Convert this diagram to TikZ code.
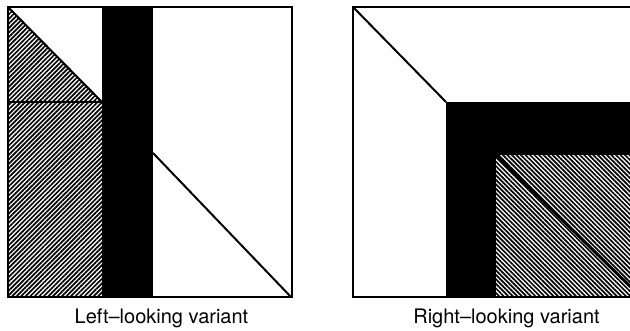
\documentclass[tikz,border=0pt]{standalone}
\usepackage{fontspec}
\setmainfont{TeX Gyre Heros}
\usetikzlibrary{patterns.meta}

\tikzset{
  frame/.style={draw=black, line width=2pt},
  edge/.style={draw=black, line width=2pt, line cap=round},
  hatchL/.style={pattern={Lines[angle=45, distance=3.2pt, line width=1.7pt]}},
  hatchR/.style={pattern={Lines[angle=-45, distance=3.2pt, line width=1.7pt]}},
  caption/.style={anchor=base, font=\fontsize{20}{24}\selectfont}
}

\begin{document}
\begin{tikzpicture}[x=1pt, y=-1pt]
\useasboundingbox (0,0) rectangle (630,331);
\clip (0,0) rectangle (630,331);

%% left-looking: hatched part done, black column is the current one
\begin{scope}
% hatched triangle above the row line and hatched block below it
\fill[hatchL] (8,7) -- (102,102) -- (8,102) -- cycle;
\fill[hatchL] (8,102) rectangle (102,297);
% current column
\fill[black] (102,7) rectangle (153,297);
% row line and the two diagonals
\draw[edge] (8,102.5) -- (102,102.5);
\draw[edge] (8,7) -- (102,102);
\draw[edge] (153,153) -- (291,297);
\draw[frame] (8,7) rectangle (292,297);
\node[caption] (lcap) at (161.5,324) {Left–looking variant};
\end{scope}

%% right-looking: black row and column, trailing block hatched
\begin{scope}
\fill[hatchR] (496,155) rectangle (645,297);
\fill[black] (446,102) rectangle (645,155);
\fill[black] (446,155) rectangle (496,297);
\draw[edge] (353,7) -- (446,102);
\draw[line width=3pt, line cap=round] (496,155) -- (641,297);
\draw[frame] (353,7) rectangle (645,297);
\node[caption] (rcap) at (506.5,324) {Right–looking variant};
\end{scope}

\end{tikzpicture}
\end{document}
